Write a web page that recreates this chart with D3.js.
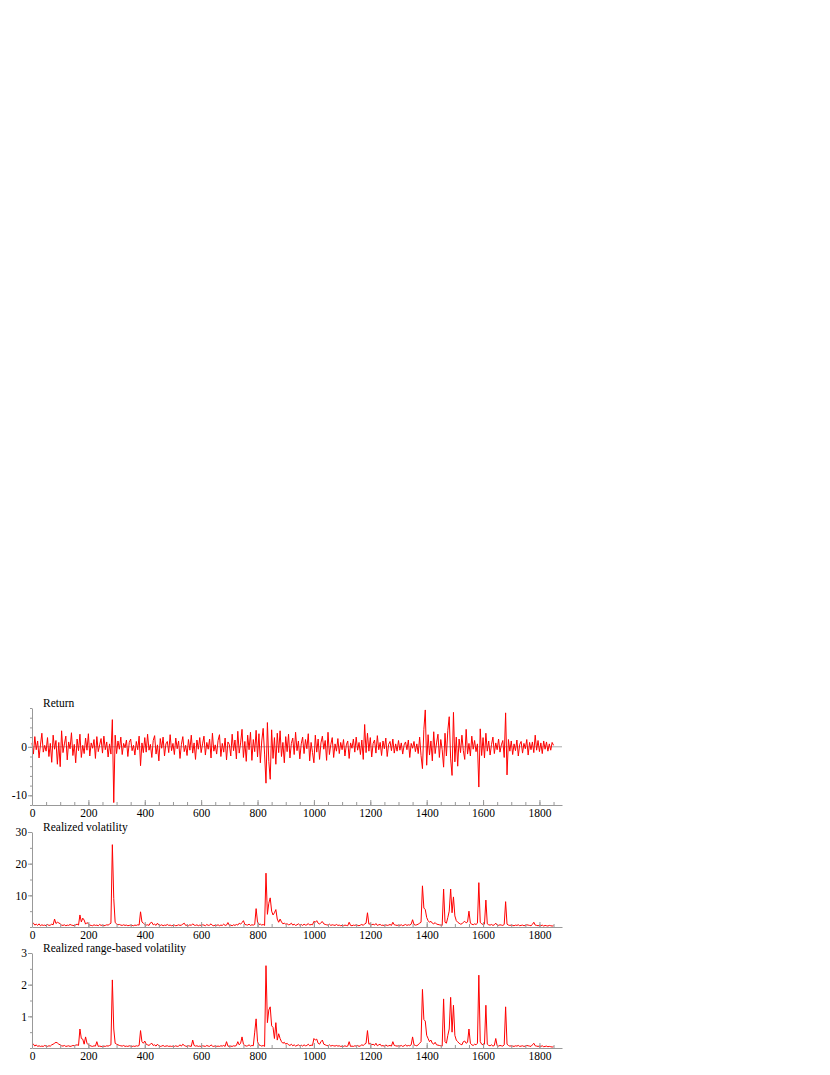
<!DOCTYPE html>
<html>
<head>
<meta charset="utf-8">
<script src="https://cdn.jsdelivr.net/npm/d3@7"></script>
<style>
  body { margin: 0; background: #fff; }
  svg text { font-family: "Liberation Serif", "Times New Roman", serif; font-size: 11.5px; fill: #000; }
  .axis path, .axis line { stroke: #999; }
</style>
</head>
<body>
<div id="chart"></div>
<script>
// one value every 5 observations (x = 0, 5, 10, ... 1850)
let xStep = 5;

let returnValues = [
  0.8,-1.5,2.1,-0.6,1.2,-2.3,0.4,2.8,-1.1,0.3,-0.9,1.9,-2.0,0.7,-3.2,2.4,-0.5,1.3,-3.6,0.9,
  -4.1,3.3,-1.2,0.6,2.2,-2.7,1.0,-0.4,2.9,-1.8,0.5,-3.3,1.6,-0.8,2.6,-2.2,0.3,-1.4,1.8,-0.7,
  2.7,-1.9,0.8,-0.3,1.5,-2.4,2.1,-1.0,0.4,1.7,-1.3,2.2,-0.6,1.0,-2.1,0.6,-1.5,5.6,-11.5,2.4,
  -1.4,1.2,-0.5,2.0,-1.6,0.7,-0.2,1.4,-2.0,0.9,1.6,-0.8,0.3,-1.7,1.1,-0.6,2.2,-3.9,0.8,-1.2,
  1.9,-1.1,2.6,-0.7,0.5,-2.2,1.3,2.3,-1.5,0.4,-2.9,1.7,-0.3,2.0,-1.9,0.6,1.1,-1.2,2.5,-0.8,
  0.7,-1.6,1.8,-0.4,1.2,-2.4,0.5,2.1,-1.0,0.3,-1.8,1.5,-0.7,2.4,-1.3,0.8,-2.6,1.4,-0.5,1.9,
  -1.2,0.6,2.2,-1.7,0.9,-0.5,1.6,-2.3,2.8,-0.9,0.4,-1.5,1.3,2.5,-2.0,0.7,-1.1,1.8,-2.7,1.0,
  0.5,-1.9,2.6,-0.8,1.4,-2.5,3.2,-1.3,0.8,3.6,-2.2,1.1,-3.0,2.4,-0.6,3.0,-2.8,1.5,-1.0,3.4,
  -2.1,2.7,-3.3,1.2,3.8,-1.5,-7.5,5.0,-3.0,-6.7,3.5,-2.4,1.9,-3.6,2.8,-1.2,3.3,-2.0,0.9,-3.3,
  2.1,-1.0,2.6,-2.3,0.7,1.8,-1.6,3.0,-0.8,1.2,-2.5,0.6,2.0,-1.4,1.5,-0.4,2.7,-2.9,0.9,-1.2,
  -3.3,2.4,-1.1,1.6,-2.6,0.8,2.2,-0.5,1.3,-2.8,3.0,-1.6,0.5,1.9,-2.2,0.6,-0.9,1.7,-1.4,0.9,
  -0.6,1.5,-1.9,0.4,1.2,-2.4,0.8,-0.3,1.6,-1.1,2.0,-0.7,0.9,-1.6,1.4,-2.6,4.6,-1.2,2.8,-0.9,
  1.9,-2.1,0.7,1.4,-1.3,2.3,-0.6,0.9,-1.8,1.2,-0.4,1.8,-2.0,0.5,1.1,-0.8,1.6,-1.3,0.6,-0.9,
  1.3,-0.7,0.8,-1.5,0.4,1.0,-0.6,1.4,-2.2,0.7,-0.3,1.1,-1.0,0.6,-1.4,2.0,-1.8,-4.5,3.6,7.6,
  -3.8,2.5,-1.7,1.2,-2.9,3.1,-1.4,0.8,2.6,-2.2,1.5,-0.6,-4.2,2.8,-1.9,3.4,6.2,-2.5,-5.9,7.1,
  -3.1,2.0,-4.0,1.6,-1.2,2.4,-0.8,-2.6,3.6,-1.5,0.7,-1.9,2.2,-0.5,1.3,-1.0,0.6,-8.3,3.7,-1.8,
  1.9,-2.3,2.8,-0.9,1.2,-1.7,0.5,2.0,-1.4,0.8,-0.6,1.6,-1.1,0.4,1.3,-2.2,7.0,-5.8,1.5,-0.9,
  1.2,-1.6,0.6,-0.8,1.4,-1.9,0.5,1.1,-1.3,0.7,-0.4,1.5,-1.7,0.9,-0.6,1.0,-1.2,2.4,-0.7,1.3,
  -1.0,0.8,-1.4,1.2,-0.5,1.0,-0.9,0.6,-0.7,0.9,0.3
];

let realizedVol = [
  0.8,1.2,0.6,0.9,0.5,1.0,0.4,0.7,0.5,0.6,0.4,0.8,0.5,0.6,0.9,0.7,2.5,1.1,1.5,1.3,
  1.0,0.6,0.5,0.7,0.4,0.6,0.5,0.8,0.6,0.5,0.4,0.7,0.9,0.6,3.8,1.6,2.8,2.2,0.9,1.4,
  1.0,0.6,0.5,0.4,0.7,0.5,0.6,0.4,0.8,0.5,0.6,0.4,0.5,0.7,0.6,0.9,1.2,26.0,9.0,1.4,
  1.0,0.7,0.8,0.6,0.5,0.7,0.5,0.6,0.4,0.5,0.6,0.5,0.4,0.6,0.5,0.7,0.6,4.8,1.6,1.2,
  0.8,0.6,0.7,0.5,1.3,1.5,0.7,0.9,0.5,1.2,0.6,0.5,0.7,0.4,0.6,0.5,0.8,0.5,0.6,0.4,
  0.5,0.6,0.4,0.5,0.7,0.5,0.6,0.9,1.2,0.5,0.6,0.4,0.7,0.5,1.0,0.6,0.5,0.7,0.4,0.6,
  0.5,0.7,0.6,0.4,0.8,0.5,0.6,1.0,0.5,0.4,0.6,0.5,0.7,0.4,0.6,0.5,0.9,0.5,0.6,1.4,
  0.5,0.6,0.4,0.7,0.5,0.8,0.6,1.2,0.9,1.4,2.0,0.8,0.7,0.6,0.9,0.5,0.7,0.6,0.8,5.8,
  1.5,0.8,0.9,0.6,0.8,0.5,17.0,4.0,7.5,9.2,5.0,3.8,4.5,5.5,2.5,1.5,2.5,1.6,1.0,1.2,
  0.9,1.0,0.7,0.8,1.2,0.6,0.9,0.5,0.7,1.0,0.6,0.8,0.5,0.9,0.6,0.7,1.1,0.6,0.8,0.7,
  1.8,1.5,2.0,1.2,0.9,1.4,1.7,1.0,0.8,0.7,0.6,0.9,0.5,0.7,0.6,0.5,0.8,0.5,0.6,0.4,
  0.5,0.4,0.6,0.5,0.4,1.5,0.5,0.4,0.6,0.5,0.7,0.5,0.4,0.6,0.8,0.5,1.0,1.2,4.5,0.9,
  1.0,0.7,0.9,0.6,1.1,0.5,0.7,0.8,0.5,0.6,0.4,0.7,0.5,0.6,0.8,0.5,1.5,0.7,0.6,0.5,
  0.6,0.5,0.7,0.4,0.6,0.8,0.5,0.7,0.6,0.9,2.3,0.8,0.6,0.7,0.9,1.2,1.5,13.0,6.0,5.5,
  3.0,2.0,1.5,1.8,1.2,1.0,1.4,0.9,0.8,0.7,0.6,0.5,12.0,1.5,1.2,3.0,5.0,12.0,4.5,9.5,
  3.5,2.0,1.5,1.2,0.9,1.0,1.5,1.8,1.3,1.6,5.0,1.2,0.9,0.7,1.0,0.8,1.2,14.0,1.5,1.0,
  0.8,0.9,8.5,1.0,0.7,0.6,0.8,0.5,0.7,1.2,0.6,0.5,0.7,0.6,0.5,0.8,8.0,0.9,0.6,0.5,
  0.6,0.5,0.4,0.6,0.5,0.7,0.4,0.5,0.6,0.4,0.5,0.7,0.6,0.5,0.4,0.8,1.5,0.6,0.5,0.4,
  0.5,0.4,0.6,0.3,0.5,0.4,0.3,0.5,0.4,0.3,0.4
];

let rangeVol = [
  0.08,0.12,0.06,0.1,0.05,0.07,0.05,0.06,0.05,0.08,0.06,0.05,0.07,0.06,0.1,0.12,0.15,0.18,0.16,0.12,
  0.1,0.07,0.06,0.08,0.05,0.06,0.07,0.05,0.06,0.08,0.07,0.09,0.1,0.08,0.6,0.3,0.28,0.12,0.35,0.15,
  0.1,0.08,0.06,0.05,0.07,0.06,0.2,0.05,0.06,0.05,0.04,0.06,0.05,0.07,0.06,0.08,0.1,2.15,0.6,0.15,
  0.12,0.1,0.08,0.07,0.06,0.08,0.05,0.06,0.05,0.07,0.06,0.05,0.06,0.05,0.07,0.06,0.08,0.55,0.2,0.15,
  0.22,0.12,0.1,0.08,0.12,0.15,0.08,0.1,0.06,0.12,0.07,0.05,0.06,0.08,0.05,0.06,0.07,0.05,0.06,0.05,
  0.06,0.05,0.07,0.05,0.06,0.1,0.06,0.12,0.08,0.06,0.05,0.07,0.06,0.05,0.25,0.08,0.06,0.07,0.05,0.06,
  0.05,0.07,0.06,0.05,0.08,0.06,0.05,0.1,0.06,0.05,0.07,0.05,0.06,0.05,0.07,0.06,0.08,0.05,0.2,0.06,
  0.05,0.06,0.05,0.07,0.06,0.08,0.2,0.1,0.15,0.35,0.12,0.08,0.06,0.07,0.1,0.06,0.08,0.07,0.5,0.92,
  0.2,0.1,0.08,0.06,0.08,0.05,2.6,0.8,1.2,1.3,0.7,0.65,0.3,0.8,0.25,0.45,0.3,0.2,0.15,0.18,
  0.12,0.15,0.1,0.08,0.12,0.07,0.1,0.06,0.08,0.1,0.07,0.09,0.06,0.1,0.07,0.08,0.12,0.07,0.09,0.08,
  0.3,0.25,0.28,0.15,0.12,0.2,0.25,0.12,0.1,0.08,0.07,0.1,0.06,0.08,0.07,0.06,0.08,0.06,0.07,0.05,
  0.06,0.05,0.07,0.05,0.06,0.2,0.05,0.06,0.05,0.07,0.06,0.08,0.05,0.07,0.1,0.08,0.12,0.15,0.55,0.12,
  0.15,0.1,0.12,0.08,0.15,0.07,0.1,0.12,0.06,0.08,0.05,0.1,0.06,0.07,0.08,0.06,0.2,0.08,0.07,0.06,
  0.07,0.06,0.08,0.05,0.07,0.1,0.06,0.08,0.07,0.1,0.35,0.1,0.08,0.07,0.1,0.15,0.2,1.85,0.9,0.85,
  0.4,0.3,0.2,0.25,0.15,0.12,0.18,0.1,0.09,0.08,0.07,0.06,1.55,0.2,0.15,0.4,0.6,1.6,0.5,1.35,
  0.4,0.25,0.2,0.15,0.12,0.1,0.2,0.22,0.15,0.18,0.6,0.15,0.1,0.08,0.12,0.1,0.15,2.3,0.2,0.12,
  0.1,0.12,1.35,0.12,0.08,0.07,0.1,0.06,0.08,0.3,0.07,0.06,0.08,0.07,0.06,0.1,1.3,0.12,0.08,0.06,
  0.07,0.06,0.05,0.07,0.06,0.08,0.05,0.06,0.07,0.05,0.06,0.08,0.07,0.06,0.05,0.1,0.15,0.07,0.06,0.05,
  0.06,0.05,0.07,0.04,0.05,0.06,0.04,0.05,0.04,0.03,0.04
];

let xTicks = d3.range(0, 1801, 200);
let xMinorTicks = d3.range(0, 1851, 50);

let panels = [
  {title: "Return", values: returnValues, domain: [-12, 8], ticks: [-10, 0], minor: d3.range(-12, 8.1, 2), top: 708, bottom: 805, zero: true},
  {title: "Realized volatility", values: realizedVol, domain: [0, 30], ticks: [10, 20, 30], minor: d3.range(0, 30.1, 5), top: 832, bottom: 927},
  {title: "Realized range-based volatility", values: rangeVol, domain: [0, 3], ticks: [1, 2, 3], minor: d3.range(0, 3.01, 0.5), top: 953, bottom: 1048}
];

let svg = d3.select("#chart").append("svg")
    .attr("width", 830)
    .attr("height", 1075);

let xScale = d3.scaleLinear().domain([0, 1880]).range([32, 562]);

panels.forEach(p => {
    let yScale = d3.scaleLinear().domain(p.domain).range([p.bottom, p.top]);

    if (p.zero) {
        svg.append("line")
            .attr("x1", xScale(0)).attr("x2", xScale(1880))
            .attr("y1", yScale(0)).attr("y2", yScale(0))
            .attr("stroke", "#aaa");
    }

    let line = d3.line()
        .x((d, i) => xScale(i * xStep))
        .y(d => yScale(d));

    svg.append("path")
        .datum(p.values)
        .attr("d", line)
        .attr("fill", "none")
        .attr("stroke", "#ff0000")
        .attr("stroke-width", 1);

    // x axis: ticks point inward
    svg.append("g")
        .attr("class", "axis")
        .attr("transform", `translate(0,${p.bottom})`)
        .call(d3.axisBottom(xScale).tickValues(xMinorTicks).tickSize(-3).tickSizeOuter(0).tickFormat(""));
    svg.append("g")
        .attr("class", "axis")
        .attr("transform", `translate(0,${p.bottom})`)
        .call(d3.axisBottom(xScale).tickValues(xTicks).tickSize(-5).tickSizeOuter(0).tickPadding(4).tickFormat(d => String(d)))
        .select(".domain").remove();

    // y axis
    svg.append("g")
        .attr("class", "axis")
        .attr("transform", `translate(${xScale(0)},0)`)
        .call(d3.axisLeft(yScale).tickValues(p.minor).tickSize(2).tickSizeOuter(0).tickFormat(""));
    svg.append("g")
        .attr("class", "axis")
        .attr("transform", `translate(${xScale(0)},0)`)
        .call(d3.axisLeft(yScale).tickValues(p.ticks).tickSize(4).tickSizeOuter(0).tickPadding(1).tickFormat(d => String(d)))
        .select(".domain").remove();

    svg.append("text")
        .attr("x", 43)
        .attr("y", p.top - 1.5)
        .text(p.title);
});

svg.selectAll(".axis text").style("font-size", "11.5px").attr("fill", "#000");
</script>
</body>
</html>
